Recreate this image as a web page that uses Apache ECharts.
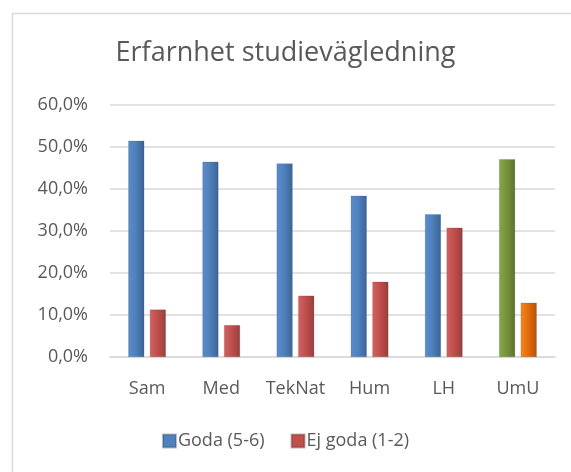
<!DOCTYPE html>
<html>
<head>
<meta charset="utf-8">
<script src="https://cdn.jsdelivr.net/npm/echarts@6/dist/echarts.min.js"></script>
<style>
  html, body { margin: 0; padding: 0; background: #fff; }
  #chart { width: 571px; height: 472px; }
</style>
</head>
<body>
<div id="chart"></div>
<script>
var categories = ['Sam', 'Med', 'TekNat', 'Hum', 'LH', 'UmU'];
var goda = [51.5, 46.5, 46.1, 38.4, 34.0, 47.1];
var ejGoda = [11.3, 7.6, 14.6, 17.9, 30.8, 12.9];

// cylinder-like shading, left light -> right dark
function shade(light, mid, dark) {
  return new echarts.graphic.LinearGradient(0, 0, 1, 0, [
    { offset: 0, color: light },
    { offset: 0.45, color: mid },
    { offset: 1, color: dark }
  ]);
}
var blue = shade('#5a8ccc', '#4f81bd', '#3b6494');
var red = shade('#d2625f', '#c0504d', '#973f3d');
var green = shade('#86a548', '#77933c', '#5c722e');
var orange = shade('#f58a20', '#e46c0a', '#b35508');

function mkData(vals, base, last) {
  return vals.map(function (v, i) {
    return {
      value: v,
      itemStyle: { color: i === vals.length - 1 ? last : base }
    };
  });
}

var chart = echarts.init(document.getElementById('chart'));

var option = {
  backgroundColor: '#fff',
  animation: false,
  title: {
    text: 'Erfarnhet studievägledning',
    left: 'center',
    top: 35,
    textStyle: {
      fontFamily: 'Open Sans',
      fontWeight: 'normal',
      fontSize: 27,
      color: '#595959'
    }
  },
  graphic: [
    { type: 'line', shape: { x1: 12, y1: 13.5, x2: 571, y2: 13.5 }, style: { stroke: '#d9d9d9', lineWidth: 1.5 } },
    { type: 'line', shape: { x1: 12.5, y1: 13, x2: 12.5, y2: 472 }, style: { stroke: '#d9d9d9', lineWidth: 1.5 } }
  ],
  legend: {
    bottom: 17,
    left: 'center',
    itemWidth: 13,
    itemHeight: 13,
    itemGap: 26,
    icon: 'rect',
    textStyle: { fontFamily: 'Open Sans', fontSize: 18, color: '#595959', padding: [0, 0, 0, -3] },
    data: [
      { name: 'Goda (5-6)', itemStyle: { color: '#4f81bd' } },
      { name: 'Ej goda (1-2)', itemStyle: { color: '#c0504d' } }
    ]
  },
  grid: {
    left: 110,
    right: 16,
    top: 105,
    bottom: 115
  },
  xAxis: {
    type: 'category',
    data: categories,
    axisLine: { lineStyle: { color: '#d9d9d9', width: 1.5 } },
    axisTick: { show: false },
    axisLabel: {
      interval: 0,
      fontFamily: 'Open Sans',
      fontSize: 18,
      color: '#595959',
      margin: 23
    }
  },
  yAxis: {
    type: 'value',
    min: 0,
    max: 60,
    interval: 10,
    axisLine: { show: false },
    axisTick: { show: false },
    splitLine: { lineStyle: { color: '#d9d9d9', width: 1.5 } },
    axisLabel: {
      fontFamily: 'Open Sans',
      fontSize: 18,
      color: '#595959',
      margin: 22,
      formatter: function (v) { return v.toFixed(1).replace('.', ',') + '%'; }
    }
  },
  series: [
    {
      name: 'Goda (5-6)',
      type: 'bar',
      barWidth: 16,
      barGap: '35%',
      data: mkData(goda, blue, green),
      itemStyle: { borderColor: 'rgba(40,60,100,0.35)', borderWidth: 0.5 }
    },
    {
      name: 'Ej goda (1-2)',
      type: 'bar',
      barWidth: 16,
      data: mkData(ejGoda, red, orange),
      itemStyle: { borderColor: 'rgba(90,30,30,0.35)', borderWidth: 0.5 }
    }
  ]
};

chart.setOption(option);
</script>
</body>
</html>
